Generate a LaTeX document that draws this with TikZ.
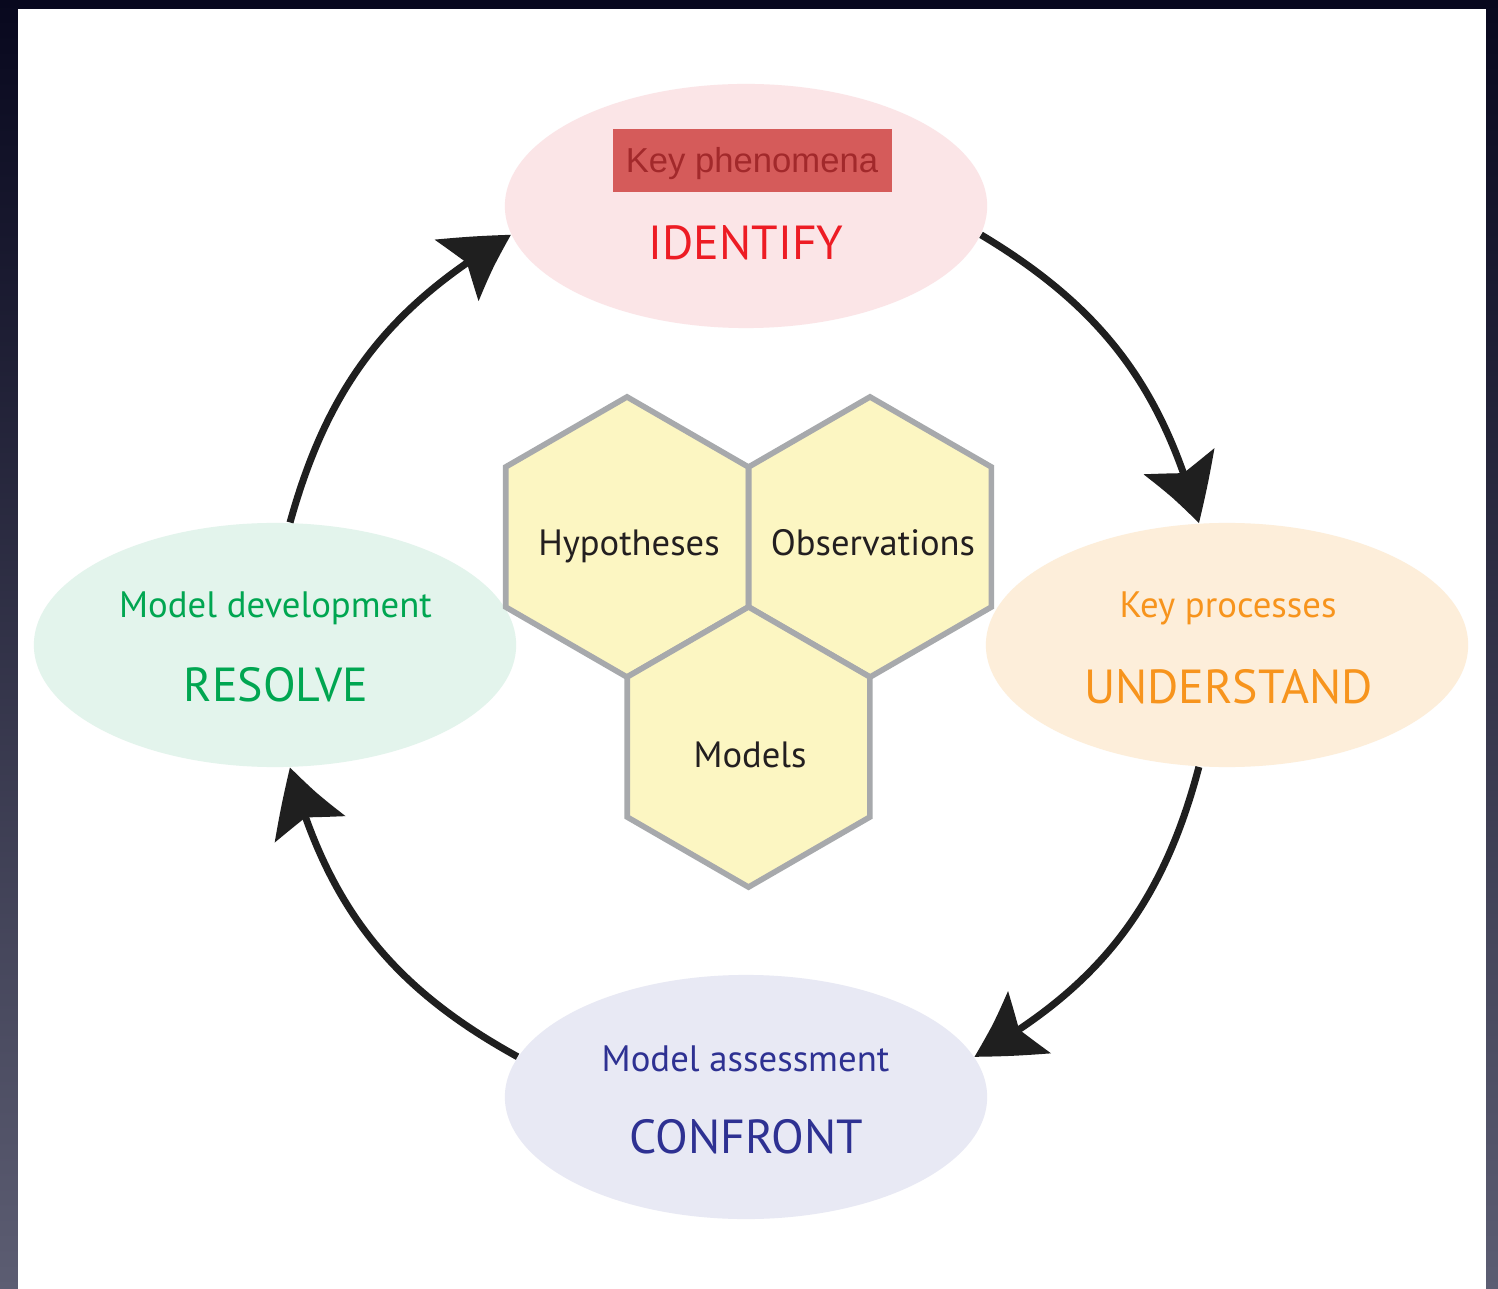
\documentclass[tikz,border=0pt]{standalone}
\usepackage{fontspec}
\setmainfont{PT Sans}
\newfontfamily\arialfont{Liberation Sans}
\usetikzlibrary{shapes.geometric,arrows.meta,bending}
\definecolor{bgtop}{HTML}{08081E}
\definecolor{bgbot}{HTML}{5C5D72}
\definecolor{hexfill}{HTML}{FCF6C2}
\definecolor{hexline}{HTML}{A7A9AC}
\definecolor{hextext}{HTML}{231F20}
\definecolor{idfill}{HTML}{FBE5E7}
\definecolor{idtext}{HTML}{ED1C24}
\definecolor{keyfill}{HTML}{D55B5A}
\definecolor{keytext}{HTML}{A2292B}
\definecolor{unfill}{HTML}{FDEEDA}
\definecolor{untext}{HTML}{F7941D}
\definecolor{cofill}{HTML}{E8E9F4}
\definecolor{cotext}{HTML}{2E3192}
\definecolor{refill}{HTML}{E3F4EC}
\definecolor{retext}{HTML}{00A651}

\begin{document}
\begin{tikzpicture}[x=0.01cm,y=-0.01cm,
    stage/.style={ellipse,minimum width=4.82cm,minimum height=2.44cm,inner sep=0pt},
    cell/.style={regular polygon,regular polygon sides=6,shape border rotate=30,minimum size=2.8cm,
      inner sep=0pt,draw=hexline,line width=1.6pt,fill=hexfill},
    celltext/.style={anchor=base,text=hextext,font=\fontsize{10.4}{12}\selectfont},
    big/.style={anchor=base,font=\fontsize{13.6}{16}\selectfont},
    small/.style={anchor=base,font=\fontsize{10.45}{12}\selectfont},
    turn/.style={line width=2pt,draw=black!88,-{Stealth[length=0.66cm,width=0.74cm,inset=0.13cm,bend]}}]
    \fill[top color=bgtop,bottom color=bgbot] (0,0) rectangle (1498,1289);
    \fill[white] (18,9) rectangle (1486,1289);
    \node[stage,fill=idfill] (identify) at (746,206) {};
    \node[fill=keyfill,minimum width=2.79cm,minimum height=0.63cm,inner sep=0pt] (idkey) at (752.5,160.5) {};
    \node[anchor=base,text=keytext,font=\arialfont\fontsize{9.85}{12}\selectfont] (idkeytext) at (752,173) {Key phenomena};
    \node[big,text=idtext] (idword) at (746,260) {IDENTIFY};
    \node[stage,fill=unfill] (understand) at (1227,645) {};
    \node[small,text=untext] (unkey) at (1228,617) {Key processes};
    \node[big,text=untext] (unword) at (1228.5,703) {UNDERSTAND};
    \node[stage,fill=cofill] (confront) at (746,1097) {};
    \node[small,text=cotext] (cokey) at (745.5,1071) {Model assessment};
    \node[big,text=cotext] (coword) at (746,1153) {CONFRONT};
    \node[stage,fill=refill] (resolve) at (275,645) {};
    \node[small,text=retext] (rekey) at (275.5,617) {Model development};
    \node[big,text=retext] (reword) at (276,702) {RESOLVE};
    \node[cell] (hyp) at (627,537) {};
    \node[cell] (obs) at (870,537) {};
    \node[cell] (mod) at (748.5,747) {};
    \node[celltext] (hyptext) at (629,556) {Hypotheses};
    \node[celltext] (obstext) at (873,556) {Observations};
    \node[celltext] (modtext) at (750,767) {Models};
    \draw[turn] (identify.-7.5) to[bend left=22] (understand.103);
    \draw[turn] (understand.-103) to[bend left=23] (confront.10);
    \draw[turn] (confront.170) to[bend left=23] (resolve.-83);
    \draw[turn] (resolve.83) to[bend left=22] (identify.187.7);
\end{tikzpicture}
\end{document}
